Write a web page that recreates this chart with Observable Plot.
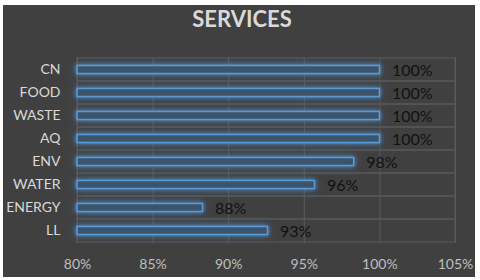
<!DOCTYPE html>
<html><head><meta charset="utf-8">
<script src="https://cdn.jsdelivr.net/npm/d3@7"></script>
<script src="https://cdn.jsdelivr.net/npm/@observablehq/plot@0.6"></script>
<style>
html,body{margin:0;padding:0;background:#fff;width:480px;height:280px;overflow:hidden;}
#panel{position:absolute;left:3px;top:5px;width:472px;height:272px;background:#404040;}
#title{height:40px;text-align:center;font:bold 22px Lato,sans-serif;color:#d9d9d9;line-height:28px;padding-left:6px;box-sizing:border-box;}
</style></head>
<body><div id="panel"><div id="title">SERVICES</div><div id="chart"></div></div>
<script>
const categories = ["CN","FOOD","WASTE","AQ","ENV","WATER","ENERGY","LL"];
const values = [100,100,100,100,98.3,95.7,88.3,92.6];
const xTicks = [80,85,90,95,100,105];

const data = categories.map((c,i)=>({cat:c, v:values[i]}));

const chart = Plot.plot({
  width:472, height:232,
  marginTop:12, marginBottom:34, marginLeft:74, marginRight:20,
  style:{background:"transparent", fontFamily:"Lato, sans-serif"},
  x:{domain:[80,105], ticks:xTicks, tickFormat:d=>d+"%", tickSize:0, tickPadding:16, label:null},
  y:{domain:categories, padding:0, tickSize:0, tickPadding:17, label:null},
  marks:[
    Plot.barX(categories, {y:d=>d, x1:80, x2:105, fill:"none", stroke:"#5a5a5a", strokeWidth:1}),
    Plot.gridX(xTicks, {stroke:"#5a5a5a", strokeOpacity:1}),
    Plot.barX(data, {y:"cat", x1:80, x2:"v", insetTop:7.5, insetBottom:7.5, fill:"#3b536b", stroke:"#5b9bd5", strokeWidth:1.5}),
    Plot.text(data, {y:"cat", x:"v", text:d=>Math.round(d.v)+"%", dx:12, dy:1, textAnchor:"start", fill:"#111", fontSize:16}),
    Plot.axisX({ticks:xTicks, tickFormat:d=>d+"%", tickSize:0, tickPadding:16, fontSize:14, color:"#bfbfbf"}),
    Plot.axisY({tickSize:0, tickPadding:17, fontSize:14, color:"#d9d9d9"})
  ]
});
document.getElementById("chart").appendChild(chart);
d3.select(chart).selectAll("g[aria-label=bar]").filter((d,i)=>i===1)
  .style("filter","drop-shadow(0 0 2px rgba(91,155,213,0.8)) drop-shadow(0 0 4px rgba(70,120,170,0.6))");
</script></body></html>
